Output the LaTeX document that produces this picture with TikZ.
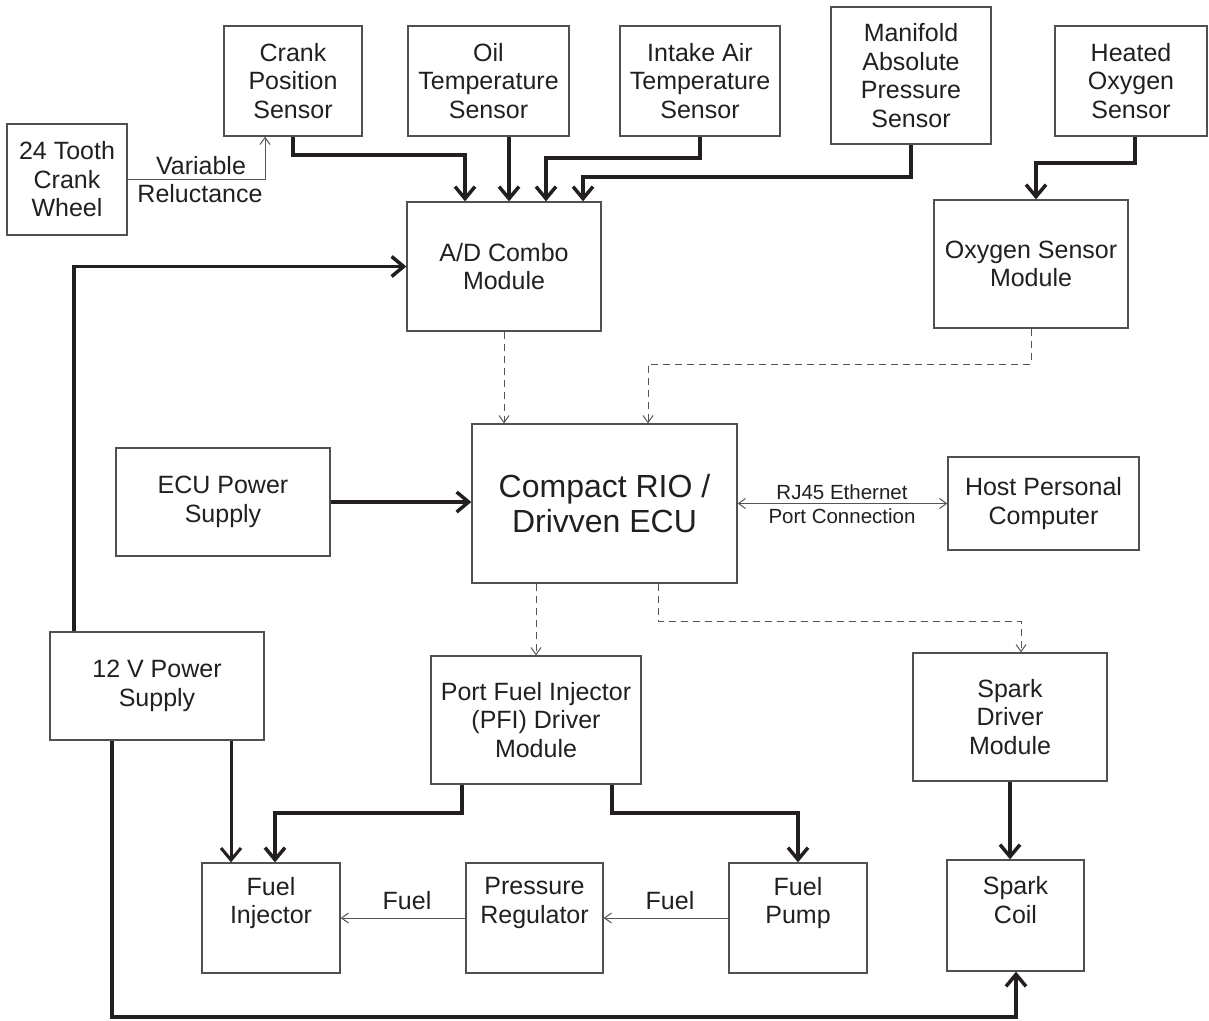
\documentclass[tikz,border=0pt]{standalone}
\usepackage{fontspec}
\setmainfont{Liberation Sans}
\usetikzlibrary{arrows.meta}
\definecolor{ink}{HTML}{231F20}
\definecolor{boxgray}{HTML}{505050}
\definecolor{thingray}{HTML}{555555}
\begin{document}
\begin{tikzpicture}[x=1pt,y=-1pt,
  box/.style={draw=boxgray, line width=1.3pt, rectangle, inner sep=0pt, align=center,
    text=ink, font=\fontsize{25}{28.5}\selectfont},
  txt/.style={inner sep=0pt, align=center, text=ink, font=\fontsize{25}{28.5}\selectfont},
  smalltxt/.style={inner sep=0pt, align=center, text=ink, font=\fontsize{20.5}{24}\selectfont},
  conn/.style={draw=ink, line width=3.5pt, -{Straight Barb[length=12pt,width=20pt]}},
  thinarr/.style={draw=thingray, line width=1pt, -{Straight Barb[length=7pt,width=10pt]}},
  dasharr/.style={thinarr, dash pattern=on 7pt off 5pt}
]
\useasboundingbox (0,0) rectangle (1209,1020);

% boxes
\node[box, minimum width=120pt, minimum height=111pt] (wheel) at (67,179.5) {24 Tooth\\Crank\\Wheel};
\node[box, minimum width=138pt, minimum height=110pt] (crank) at (293,81) {Crank\\Position\\Sensor};
\node[box, minimum width=161pt, minimum height=110pt] (oil) at (488.5,81) {Oil\\Temperature\\Sensor};
\node[box, minimum width=160pt, minimum height=110pt] (iat) at (700,81) {Intake Air\\Temperature\\Sensor};
\node[box, minimum width=160pt, minimum height=137pt] (map) at (911,75.5) {Manifold\\Absolute\\Pressure\\Sensor};
\node[box, minimum width=152pt, minimum height=110pt] (ho2) at (1131,81) {Heated\\Oxygen\\Sensor};
\node[box, minimum width=194pt, minimum height=129pt] (ad) at (504,266.5) {A/D Combo\\Module};
\node[box, minimum width=194pt, minimum height=128pt] (o2m) at (1031,264) {Oxygen Sensor\\Module};
\node[box, minimum width=265pt, minimum height=159pt, font=\fontsize{32}{35}\selectfont] (ecu) at (604.5,503.5) {Compact RIO /\\Drivven ECU};
\node[box, minimum width=214pt, minimum height=108pt] (ecups) at (223,502) {ECU Power\\Supply};
\node[box, minimum width=214pt, minimum height=108pt] (v12) at (157,686) {12 V Power\\Supply};
\node[box, minimum width=191pt, minimum height=93pt] (host) at (1043.5,503.5) {Host Personal\\Computer};
\node[box, minimum width=210pt, minimum height=128pt] (pfi) at (536,720) {Port Fuel Injector\\(PFI) Driver\\Module};
\node[box, minimum width=194pt, minimum height=128pt] (sdm) at (1010,717) {Spark\\Driver\\Module};
\node[box, minimum width=138pt, minimum height=110pt] (fi) at (271,918) {};
\node[box, minimum width=137pt, minimum height=110pt] (pr) at (534.5,918) {};
\node[box, minimum width=138pt, minimum height=110pt] (fp) at (798,918) {};
\node[box, minimum width=137pt, minimum height=111pt] (sc) at (1015.5,915.5) {};
\node[txt] (fitext) at (271,903) {Fuel\\Injector};
\node[txt] (prtext) at (534.5,903) {Pressure\\Regulator};
\node[txt] (fptext) at (798,903) {Fuel\\Pump};
\node[txt] (sctext) at (1015.5,900) {Spark\\Coil};

% thin connectors
\draw[thinarr] (wheel.east) -- (265,179.5) -- (265,0 |- crank.south);
\node[txt] (vr1) at (201,166) {Variable};
\node[txt] (vr2) at (200,194) {Reluctance};
\draw[thinarr, {Straight Barb[length=7pt,width=10pt]}-{Straight Barb[length=7pt,width=10pt]}] (ecu.east) -- (ecu.east -| host.west);
\node[smalltxt] (rj1) at (842,492) {RJ45 Ethernet};
\node[smalltxt] (rj2) at (842,516) {Port Connection};
\draw[thinarr] (pr.west) -- (fi.east);
\node[txt] (fuel1) at (407,901) {Fuel};
\draw[thinarr] (fp.west) -- (pr.east);
\node[txt] (fuel2) at (670,901) {Fuel};

% thick connectors
\draw[conn] (crank.south) -- (293,155) -- (465,155) -- (465,0 |- ad.north);
\draw[conn] (509,0 |- oil.south) -- (509,0 |- ad.north);
\draw[conn] (iat.south) -- (700,158) -- (546,158) -- (546,0 |- ad.north);
\draw[conn] (map.south) -- (911,177) -- (583,177) -- (583,0 |- ad.north);
\draw[conn] (1135,0 |- ho2.south) -- (1135,163) -- (1036,163) -- (1036,0 |- o2m.north);
\draw[conn] (74,0 |- v12.north) -- (74,266.5) -- (ad.west);
\draw[conn] (ecups.east) -- (ecups.east -| ecu.west);
\draw[conn] (462,0 |- pfi.south) -- (462,813) -- (275,813) -- (275,0 |- fi.north);
\draw[conn] (612,0 |- pfi.south) -- (612,813) -- (798,813) -- (fp.north);
\draw[conn, line width=3pt] (231,0 |- v12.south) -- (231,0 |- fi.north);
\draw[conn] (112,0 |- v12.south) -- (112,1017) -- (1016,1017) -- (1016,0 |- sc.south);
\draw[conn] (1010,0 |- sdm.south) -- (1010,0 |- sc.north);

% dashed connectors
\draw[dasharr] (ad.south) -- (504,0 |- ecu.north);
\draw[dasharr] (o2m.south) -- (1031,364) -- (648,364) -- (648,0 |- ecu.north);
\draw[dasharr] (536,0 |- ecu.south) -- (pfi.north);
\draw[dasharr] (658,0 |- ecu.south) -- (658,621) -- (1021,621) -- (1021,0 |- sdm.north);
\end{tikzpicture}
\end{document}
